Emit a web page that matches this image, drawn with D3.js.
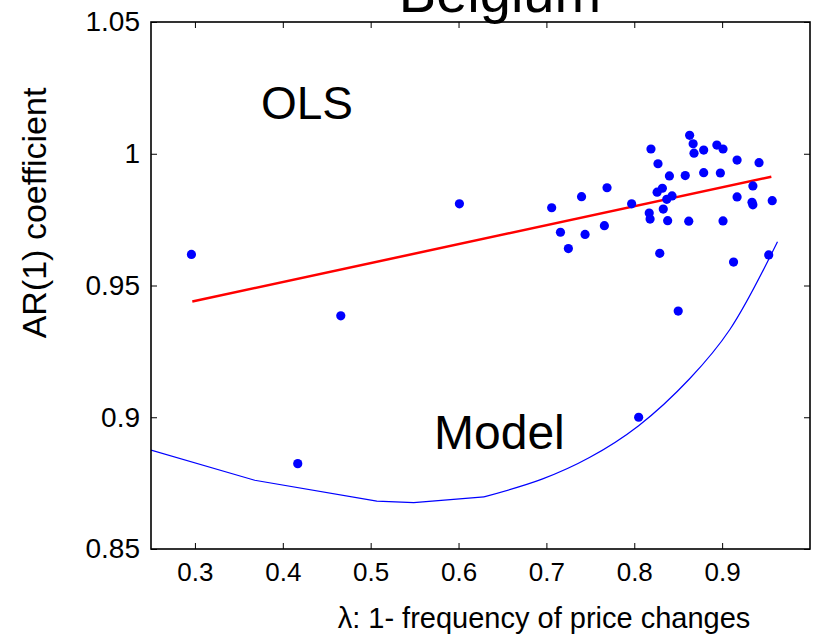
<!DOCTYPE html>
<html>
<head>
<meta charset="utf-8">
<script src="https://cdn.jsdelivr.net/npm/d3@7/dist/d3.min.js"></script>
<style>
  html, body { margin: 0; padding: 0; background: #fff; }
  text { font-family: "Liberation Sans", Arial, Helvetica, sans-serif; fill: #000; }
</style>
</head>
<body>
<svg id="chart" width="813" height="643"></svg>
<script>
// ---------- data ----------
const titleText = "Belgium";
const xLabel = "λ: 1- frequency of price changes";
const yLabel = "AR(1) coefficient";
const xTicks = [0.3, 0.4, 0.5, 0.6, 0.7, 0.8, 0.9];
const yTicks = [0.85, 0.9, 0.95, 1, 1.05];
const yTickLabels = ["0.85", "0.9", "0.95", "1", "1.05"];

// country observations (lambda, AR(1))
const obsX = [0.296, 0.417, 0.466, 0.601, 0.706, 0.716, 0.725, 0.740, 0.744, 0.766, 0.769,
  0.797, 0.805, 0.817, 0.818, 0.819, 0.827, 0.826, 0.832, 0.829, 0.833, 0.837, 0.843,
  0.838, 0.840, 0.850, 0.858, 0.862, 0.863, 0.867, 0.868, 0.879, 0.879, 0.894, 0.901,
  0.898, 0.901, 0.913, 0.917, 0.917, 0.935, 0.934, 0.935, 0.942, 0.957, 0.953];
const obsY = [0.9618, 0.8824, 0.9385, 0.9810, 0.9795, 0.9702, 0.9640, 0.9837, 0.9694, 0.9727, 0.9871,
  0.9810, 0.9000, 0.9775, 0.9752, 1.0018, 0.9962, 0.9854, 0.9869, 0.9622, 0.9790, 0.9827, 0.9840,
  0.9746, 0.9916, 0.9403, 0.9917, 0.9744, 1.0070, 1.0038, 1.0002, 1.0014, 0.9928, 1.0033, 1.0018,
  0.9927, 0.9745, 0.9589, 0.9976, 0.9836, 0.9878, 0.9816, 0.9806, 0.9966, 0.9822, 0.9616];

// OLS fitted line end points
const olsX = [0.297, 0.956];
const olsY = [0.9439, 0.9913];

// model-implied curve: piecewise-linear low part, smooth high part
const modelLowX = [0.25, 0.368, 0.507, 0.549, 0.629];
const modelLowY = [0.8875, 0.8761, 0.8682, 0.8676, 0.8698];
const modelHighX = [0.629, 0.695, 0.749, 0.805, 0.863, 0.909, 0.963];
const modelHighY = [0.8698, 0.8765, 0.8847, 0.8968, 0.9146, 0.9334, 0.9666];

// ---------- layout ----------
const svg = d3.select("#chart");
const L = 151, R = 810, T = 22, B = 549;
const x = d3.scaleLinear().domain([0.25, 1.0]).range([L, R]);
const y = d3.scaleLinear().domain([0.85, 1.05]).range([B, T]);

svg.append("clipPath").attr("id", "clip")
  .append("rect").attr("x", L).attr("y", T).attr("width", R - L).attr("height", B - T);
const plot = svg.append("g").attr("clip-path", "url(#clip)");

// model curve
plot.append("path")
  .datum(modelLowX.map((d, i) => [d, modelLowY[i]]))
  .attr("fill", "none").attr("stroke", "#0000ff").attr("stroke-width", 1.2)
  .attr("d", d3.line().x(d => x(d[0])).y(d => y(d[1])));
plot.append("path")
  .datum(modelHighX.map((d, i) => [d, modelHighY[i]]))
  .attr("fill", "none").attr("stroke", "#0000ff").attr("stroke-width", 1.2)
  .attr("d", d3.line().x(d => x(d[0])).y(d => y(d[1])).curve(d3.curveCatmullRom));

// OLS line
plot.append("path")
  .datum(olsX.map((d, i) => [d, olsY[i]]))
  .attr("fill", "none").attr("stroke", "#ff0000").attr("stroke-width", 2.5)
  .attr("d", d3.line().x(d => x(d[0])).y(d => y(d[1])));

// points
plot.selectAll("circle.obs").data(obsX.map((d, i) => [d, obsY[i]]))
  .enter().append("circle").attr("class", "obs")
  .attr("cx", d => x(d[0])).attr("cy", d => y(d[1])).attr("r", 4.6)
  .attr("fill", "#0000ff");

// axes (ticks inside, box)
const tickLen = 6;
const axB = svg.append("g").attr("transform", `translate(0,${B})`)
  .call(d3.axisBottom(x).tickValues(xTicks).tickSizeInner(-tickLen).tickSizeOuter(0).tickPadding(14)
    .tickFormat(d3.format(".1f")));
const axT = svg.append("g").attr("transform", `translate(0,${T})`)
  .call(d3.axisTop(x).tickValues(xTicks).tickSizeInner(-tickLen).tickSizeOuter(0).tickFormat(""));
const axL = svg.append("g").attr("transform", `translate(${L},0)`)
  .call(d3.axisLeft(y).tickValues(yTicks).tickSizeInner(-tickLen).tickSizeOuter(0).tickPadding(11)
    .tickFormat((d, i) => yTickLabels[i]));
const axR = svg.append("g").attr("transform", `translate(${R},0)`)
  .call(d3.axisRight(y).tickValues(yTicks).tickSizeInner(-tickLen).tickSizeOuter(0).tickFormat(""));

[axB, axT, axL, axR].forEach(a => {
  a.select(".domain").remove();
  a.selectAll("line").attr("stroke", "#000").attr("stroke-width", 1);
  a.selectAll("text").style("font-size", "26px").style("font-family", "Liberation Sans, Arial, sans-serif").attr("fill", "#000");
});
axL.selectAll("text").style("font-size", "28px");

svg.append("rect").attr("x", L).attr("y", T).attr("width", R - L).attr("height", B - T)
  .attr("fill", "none").attr("stroke", "#000").attr("stroke-width", 1.6);

// texts
svg.append("text").attr("x", 500).attr("y", 12).attr("text-anchor", "middle")
  .style("font-size", "56px").text(titleText);
svg.append("text").attr("x", 261).attr("y", 119)
  .style("font-size", "46px").text("OLS");
svg.append("text").attr("x", 434).attr("y", 449)
  .style("font-size", "48px").text("Model");
svg.append("text").attr("x", 544).attr("y", 628).attr("text-anchor", "middle")
  .style("font-size", "29px").text(xLabel);
svg.append("text").attr("transform", "translate(46,213) rotate(-90)").attr("text-anchor", "middle")
  .style("font-size", "34px").text(yLabel);
</script>
</body>
</html>
